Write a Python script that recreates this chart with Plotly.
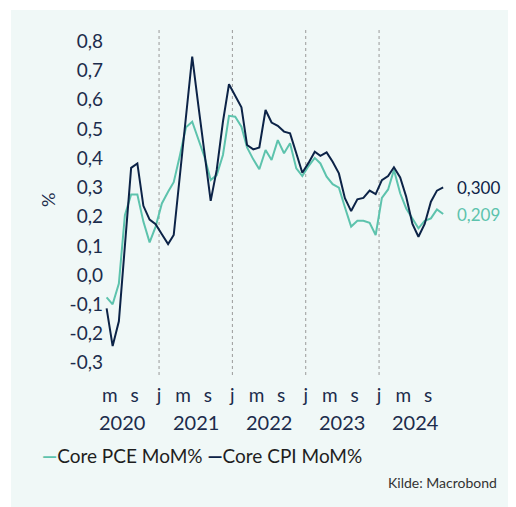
import plotly.graph_objects as go
import pandas as pd

# månedlige observasjoner apr 2020 - nov 2024
months = pd.date_range('2020-04-01', periods=56, freq='MS') + pd.Timedelta(days=14)

core_pce = [-0.076, -0.100, -0.029, 0.205, 0.276, 0.276, 0.183, 0.112, 0.166, 0.245,
            0.285, 0.318, 0.410, 0.506, 0.525, 0.468, 0.405, 0.325, 0.342, 0.411,
            0.545, 0.542, 0.508, 0.437, 0.396, 0.362, 0.428, 0.394, 0.462, 0.417,
            0.451, 0.365, 0.339, 0.373, 0.401, 0.382, 0.337, 0.311, 0.299, 0.232,
            0.166, 0.186, 0.186, 0.179, 0.137, 0.264, 0.293, 0.360, 0.280, 0.228,
            0.191, 0.160, 0.186, 0.194, 0.225, 0.209]

core_cpi = [-0.114, -0.243, -0.158, 0.110, 0.367, 0.382, 0.237, 0.190, 0.174, 0.140,
            0.106, 0.137, 0.345, 0.545, 0.748, 0.583, 0.419, 0.254, 0.360, 0.525,
            0.653, 0.615, 0.574, 0.445, 0.430, 0.437, 0.565, 0.522, 0.511, 0.491,
            0.485, 0.417, 0.350, 0.384, 0.422, 0.408, 0.420, 0.388, 0.348, 0.263,
            0.219, 0.259, 0.264, 0.289, 0.277, 0.325, 0.339, 0.369, 0.334, 0.268,
            0.175, 0.131, 0.175, 0.251, 0.289, 0.300]

y_ticks = [-0.3, -0.2, -0.1, 0.0, 0.1, 0.2, 0.3, 0.4, 0.5, 0.6, 0.7, 0.8]
y_labels = ['-0,3', '-0,2', '-0,1', '0,0', '0,1', '0,2', '0,3', '0,4', '0,5', '0,6', '0,7', '0,8']

x_ticks = ['2020-05-01', '2020-09-01',
           '2021-01-01', '2021-05-01', '2021-09-01',
           '2022-01-01', '2022-05-01', '2022-09-01',
           '2023-01-01', '2023-05-01', '2023-09-01',
           '2024-01-01', '2024-05-01', '2024-09-01']
x_labels = ['m', 's', 'j', 'm', 's', 'j', 'm', 's', 'j', 'm', 's', 'j', 'm', 's']

years = ['2020', '2021', '2022', '2023', '2024']
year_breaks = ['2021-01-01', '2022-01-01', '2023-01-01', '2024-01-01']

pce_col = '#5dc3ad'
cpi_col = '#0c2347'
txt_col = '#1c2c4c'
font = 'Lato'

fig = go.Figure()

# bakgrunnspanel
fig.add_shape(type='rect', xref='paper', yref='paper', x0=-0.2688, x1=1.25,
              y0=-0.45, y1=1.0489, fillcolor='#f0f8f7', line_width=0, layer='below')

for d in year_breaks:
    fig.add_shape(type='line', xref='x', yref='paper', x0=d, x1=d, y0=0, y1=1,
                  line=dict(color='#9a9a9a', width=1, dash='dot'), layer='below')

fig.add_trace(go.Scatter(x=months, y=core_pce, mode='lines', name='Core PCE MoM%',
                         line=dict(color=pce_col, width=2)))
fig.add_trace(go.Scatter(x=months, y=core_cpi, mode='lines', name='Core CPI MoM%',
                         line=dict(color=cpi_col, width=2)))

# sluttverdier
fig.add_annotation(x=months[-1], y=core_cpi[-1], text='0,300', showarrow=False,
                   xanchor='left', yanchor='middle', xshift=12,
                   font=dict(family=font, size=17, color=cpi_col))
fig.add_annotation(x=months[-1], y=core_pce[-1], text='0,209', showarrow=False,
                   xanchor='left', yanchor='middle', xshift=12,
                   font=dict(family=font, size=17, color=pce_col))

# årstall
for y in years:
    fig.add_annotation(x=y + '-07-02', y=-0.134, xref='x', yref='paper', text=y,
                       showarrow=False, xanchor='center', yanchor='middle',
                       font=dict(family=font, size=20, color=txt_col))

fig.add_annotation(x=-0.162, y=0.503, xref='paper', yref='paper', text='%',
                   textangle=-90, showarrow=False, xanchor='center', yanchor='middle',
                   font=dict(family=font, size=18, color=txt_col))

# legende
fig.add_annotation(x=-0.185, y=-0.23, xref='paper', yref='paper', xanchor='left',
                   yanchor='middle', showarrow=False,
                   text=f"<span style='color:{pce_col}'><b>—</b></span>Core PCE MoM% "
                        f"<span style='color:{cpi_col}'><b>—</b></span>Core CPI MoM%",
                   font=dict(family=font, size=19, color='#1e1e1e'))

fig.add_annotation(x=1.1416, y=-0.3103, xref='paper', yref='paper', xanchor='right',
                   yanchor='middle', showarrow=False, text='Kilde: Macrobond',
                   font=dict(family=font, size=14, color='#333333'))

fig.update_xaxes(range=['2020-04-02', '2024-12-19'], tickvals=x_ticks, ticktext=x_labels,
                 showgrid=False, zeroline=False, showline=False,
                 ticks='outside', ticklen=3, tickcolor='rgba(0,0,0,0)',
                 tickfont=dict(family=font, size=19, color=txt_col))
fig.update_yaxes(range=[-0.342, 0.849], tickvals=y_ticks, ticktext=y_labels,
                 showgrid=False, zeroline=False, showline=False,
                 tickfont=dict(family=font, size=19, color=txt_col))

fig.update_layout(width=516, height=507, margin=dict(l=96, r=74, t=19, b=140),
                  paper_bgcolor='white', plot_bgcolor='rgba(0,0,0,0)',
                  showlegend=False, font=dict(family=font))

fig.write_html('out.html')
